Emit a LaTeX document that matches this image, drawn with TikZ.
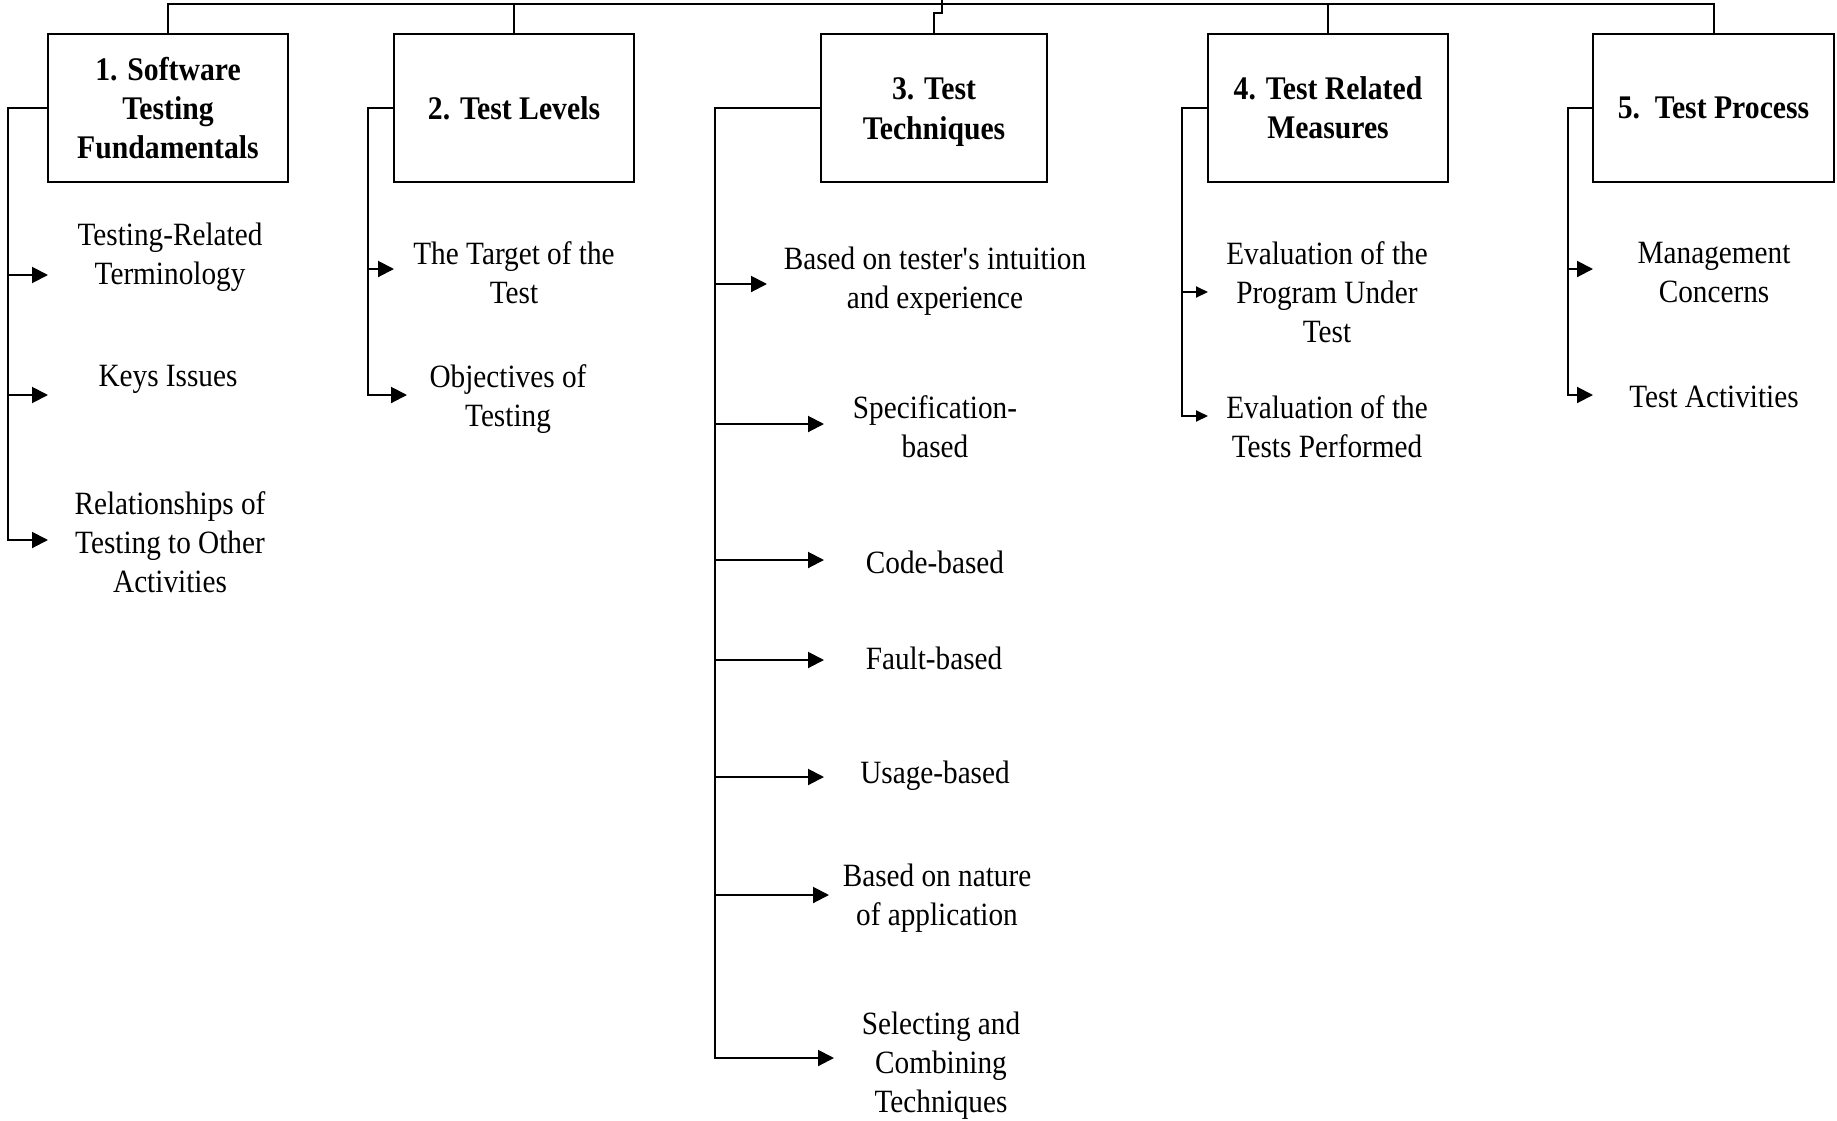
\documentclass[tikz,border=0pt]{standalone}
\usepackage{fontspec}
\setmainfont{Liberation Serif}[FakeStretch=0.9]
\usetikzlibrary{arrows.meta}
\begin{document}
\begin{tikzpicture}[x=1pt,y=-1pt, line width=2pt,
  box/.style={draw, line width=2pt, minimum height=148pt, inner sep=0pt, align=center,
    font=\fontsize{33}{39}\selectfont\bfseries},
  item/.style={align=center, inner sep=0pt, font=\fontsize{32.5}{39}\selectfont},
  arr/.style={-{Triangle[length=16pt,width=16pt]}},
  sarr/.style={-{Triangle[length=12pt,width=11pt]}}]
\useasboundingbox (0,0) rectangle (1837,1120);

% boxes
\node[box, minimum width=240pt] (b1) at (168,108) {1. Software\\Testing\\Fundamentals};
\node[box, minimum width=240pt] (b2) at (514,108) {2. Test Levels};
\node[box, minimum width=226pt] (b3) at (934,108) {};
\node[font=\fontsize{33}{40}\selectfont\bfseries, align=center, inner sep=0pt] (b3t) at (934,112) {3. Test\\Techniques};
\node[box, minimum width=240pt] (b4) at (1328,108) {4. Test Related\\Measures};
\node[box, minimum width=241pt] (b5) at (1713.5,108) {5.\ \ Test Process};

% top connectors
\coordinate (h1) at (168,4);
\coordinate (h5) at (1713.5,4);
\coordinate (root) at (942,-2);
\draw (b1.north) |- (h5) -- (b5.north);
\draw (b2.north) -- (b2.north |- h1);
\draw (b4.north) -- (b4.north |- h1);
\draw (b3.north) -- ++(0,-20) -| (root);

% items
\node[item] (i11) at (170,257) {Testing-Related\\Terminology};
\node[item] (i12) at (168,379) {Keys Issues};
\node[item] (i13) at (170,542) {Relationships of\\Testing to Other\\Activities};
\node[item] (i21) at (514,273) {The Target of the\\Test};
\node[item] (i22) at (508,399) {Objectives of\\Testing};
\node[item] (i31) at (935,281) {Based on tester\textquotesingle s intuition\\and experience};
\node[item] (i32) at (935,427) {Specification-\\based};
\node[item] (i33) at (935,562) {Code-based};
\node[item] (i34) at (934,658) {Fault-based};
\node[item] (i35) at (935,776) {Usage-based};
\node[item] (i36) at (937,898) {Based on nature\\of application};
\node[item] (i37) at (941,1066) {Selecting and\\Combining\\Techniques};
\node[item] (i41) at (1327,292) {Evaluation of the\\Program Under\\Test};
\node[item] (i42) at (1327,427) {Evaluation of the\\Tests Performed};
\node[item] (i51) at (1714,273) {Management\\Concerns};
\node[item] (i52) at (1714,397) {Test Activities};

% trunks and arrows
\coordinate (t1) at (8,108);
\coordinate (a11) at (48,275);
\coordinate (a12) at (48,395);
\coordinate (a13) at (48,540);
\draw[arr] (b1.west) -- (t1) |- (a11);
\draw[arr] (t1) |- (a12);
\draw[arr] (t1) |- (a13);

\coordinate (t2) at (368,108);
\coordinate (a21) at (394,269);
\coordinate (a22) at (407,395);
\draw[arr] (b2.west) -- (t2) |- (a21);
\draw[arr] (t2) |- (a22);

\coordinate (t3) at (715,108);
\coordinate (a31) at (767,284);
\coordinate (a32) at (824,424);
\coordinate (a33) at (824,560);
\coordinate (a34) at (824,660);
\coordinate (a35) at (824,777);
\coordinate (a36) at (829,895);
\coordinate (a37) at (834,1058);
\draw[arr] (b3.west) -- (t3) |- (a31);
\draw[arr] (t3) |- (a32);
\draw[arr] (t3) |- (a33);
\draw[arr] (t3) |- (a34);
\draw[arr] (t3) |- (a35);
\draw[arr] (t3) |- (a36);
\draw[arr] (t3) |- (a37);

\coordinate (t4) at (1182,108);
\coordinate (a41) at (1208,292);
\coordinate (a42) at (1208,416);
\draw[sarr] (b4.west) -- (t4) |- (a41);
\draw[sarr] (t4) |- (a42);

\coordinate (t5) at (1568,108);
\coordinate (a51) at (1593,269);
\coordinate (a52) at (1593,395);
\draw[arr] (b5.west) -- (t5) |- (a51);
\draw[arr] (t5) |- (a52);
\end{tikzpicture}
\end{document}
